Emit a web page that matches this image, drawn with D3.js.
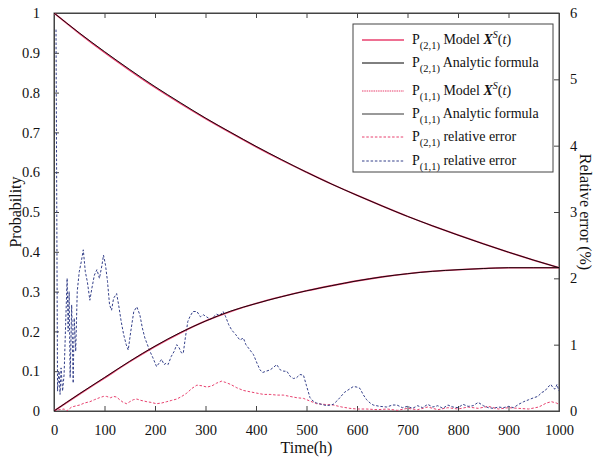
<!DOCTYPE html>
<html><head><meta charset="utf-8">
<script src="https://cdn.jsdelivr.net/npm/d3@7/dist/d3.min.js"></script>
<style>
body{margin:0;background:#fff;}
svg text{font-family:'Liberation Serif', 'Tinos', 'Times New Roman', Times, serif !important;fill:#111;}
</style></head>
<body><svg id="c" width="598" height="459"></svg>
<script>
// ---- data ----
const timeGrid = [0,50,100,150,200,250,300,350,400,450,500,550,600,650,700,750,800,850,900,950,1000];
const p21Analytic = [1.000,0.950,0.903,0.858,0.815,0.775,0.736,0.700,0.665,0.632,0.600,0.570,0.542,0.515,0.489,0.465,0.442,0.420,0.399,0.379,0.360];
const p21Model    = [1.000,0.949,0.901,0.856,0.813,0.773,0.735,0.699,0.664,0.631,0.600,0.570,0.542,0.515,0.489,0.465,0.442,0.420,0.399,0.379,0.360];
const p11Analytic = [0.000,0.043,0.084,0.125,0.163,0.197,0.226,0.251,0.270,0.287,0.302,0.315,0.327,0.337,0.345,0.351,0.355,0.358,0.360,0.360,0.360];
const p11Model    = [0.000,0.042,0.083,0.124,0.162,0.196,0.226,0.250,0.270,0.287,0.302,0.315,0.327,0.337,0.345,0.351,0.355,0.358,0.360,0.360,0.360];

const err21T = [0,10,20,25,35,45,51,60,71,80,90,98,104,112,118,124,130,137,144,150,157,164,172,178,184,192,203,213,223,233,243,253,263,273,283,293,303,313,322,332,340,350,362,375,388,401,415,428,441,454,467,481,494,507,520,535,553,570,586,600,619,640,660,680,700,720,740,760,780,800,820,840,860,880,900,920,940,960,975,985,995,1000];
const err21V = [0,0.02,0.03,0.0,0.06,0.08,0.09,0.12,0.14,0.17,0.2,0.22,0.22,0.2,0.22,0.21,0.17,0.13,0.11,0.14,0.17,0.18,0.16,0.15,0.14,0.13,0.11,0.12,0.14,0.16,0.18,0.22,0.27,0.34,0.39,0.38,0.36,0.38,0.42,0.45,0.43,0.4,0.35,0.31,0.29,0.27,0.25,0.25,0.24,0.24,0.22,0.2,0.19,0.15,0.11,0.1,0.09,0.06,0.04,0.03,0.03,0.02,0.03,0.01,0.04,0.02,0.06,0.02,0.05,0.03,0.06,0.04,0.07,0.03,0.05,0.04,0.03,0.06,0.12,0.14,0.12,0.1];

const err11T = [4,7,10,12,14,17,20,23,26,28,30,32,35,38,40,43,46,50,54,58,62,66,71,75,80,85,90,95,98,102,106,110,114,118,124,128,133,138,143,147,152,158,164,170,175,180,184,190,196,203,208,213,218,222,226,232,238,243,248,252,256,260,265,269,275,283,290,296,302,310,316,322,328,335,340,346,352,360,368,375,380,388,395,402,408,413,420,428,435,441,448,455,461,468,474,480,487,494,500,507,513,520,530,540,553,560,566,575,585,593,600,606,612,619,626,632,645,659,670,679,690,700,710,720,730,740,750,760,770,780,790,800,810,820,830,840,850,860,870,880,890,900,910,920,930,940,950,958,966,972,978,984,988,992,996,1000];
const err11V = [5.75,0.3,0.6,0.25,0.65,0.3,0.55,1.3,2.0,1.2,1.8,0.5,1.6,0.42,1.4,0.9,1.8,2.1,2.25,2.43,2.1,1.95,1.67,1.85,2.05,2.13,2.0,2.2,2.35,2.2,1.95,1.6,1.52,1.7,1.77,1.6,1.35,1.15,1.0,0.92,1.2,1.5,1.57,1.45,1.25,1.1,1.02,0.9,0.8,0.67,0.72,0.78,0.7,0.72,0.7,0.82,0.9,1.0,0.95,0.88,0.87,1.1,1.35,1.42,1.5,1.5,1.42,1.45,1.42,1.38,1.42,1.46,1.44,1.5,1.42,1.3,1.22,1.15,1.07,1.1,1.0,0.92,0.85,0.72,0.62,0.58,0.6,0.62,0.66,0.7,0.62,0.6,0.6,0.52,0.49,0.5,0.55,0.54,0.38,0.2,0.15,0.12,0.1,0.08,0.1,0.15,0.2,0.28,0.33,0.37,0.36,0.34,0.25,0.17,0.12,0.09,0.07,0.06,0.09,0.09,0.05,0.07,0.04,0.08,0.05,0.1,0.06,0.08,0.04,0.09,0.06,0.05,0.1,0.07,0.08,0.13,0.08,0.05,0.04,0.06,0.05,0.07,0.05,0.1,0.14,0.17,0.2,0.22,0.28,0.3,0.36,0.4,0.35,0.33,0.4,0.3];

const xTicks = [0,100,200,300,400,500,600,700,800,900,1000];
const yTicks = [0,0.1,0.2,0.3,0.4,0.5,0.6,0.7,0.8,0.9,1];
const y2Ticks = [0,1,2,3,4,5,6];

// ---- layout ----
const FONT = "'Liberation Serif', Tinos, 'Times New Roman', Times, serif";
const L=54, T=13, R=559, B=411;
const svg = d3.select("#c");
const x = d3.scaleLinear().domain([0,1000]).range([L,R]);
const y = d3.scaleLinear().domain([0,1]).range([B,T]);
const y2 = d3.scaleLinear().domain([0,6]).range([B,T]);

const RED = "#e8406e", BLK = "#000", BLUE = "#34408a";
const axisCol = "#444";

svg.append("rect").attr("x",L).attr("y",T).attr("width",R-L).attr("height",B-T)
  .attr("fill","none").attr("stroke",axisCol).attr("stroke-width",1);

const fmt = d => (d===0?"0":(d===1?"1":d3.format(".1f")(d)));
const gx = svg.append("g").attr("transform",`translate(0,${B})`)
  .call(d3.axisBottom(x).tickValues(xTicks).tickSize(-5).tickPadding(14).tickFormat(d3.format("d")));
const gxt = svg.append("g").attr("transform",`translate(0,${T})`)
  .call(d3.axisTop(x).tickValues(xTicks).tickSize(-5).tickFormat(""));
const gy = svg.append("g").attr("transform",`translate(${L},0)`)
  .call(d3.axisLeft(y).tickValues(yTicks).tickSize(-5).tickPadding(14).tickFormat(fmt));
const gy2 = svg.append("g").attr("transform",`translate(${R},0)`)
  .call(d3.axisRight(y2).tickValues(y2Ticks).tickSize(-5).tickPadding(11).tickFormat(d3.format("d")));
[gx,gxt,gy,gy2].forEach(g=>{
  g.attr("font-family",FONT).attr("font-size",14.5);
  g.select(".domain").attr("stroke",axisCol);
  g.selectAll(".tick line").attr("stroke",axisCol);
  g.selectAll(".tick text").attr("font-size",14.5).style("font-family",FONT).attr("fill","#111");
});

svg.append("clipPath").attr("id","clip").append("rect").attr("x",L).attr("y",T).attr("width",R-L).attr("height",B-T);
const plot = svg.append("g").attr("clip-path","url(#clip)");

const lineP = d3.line().x((d,i)=>x(timeGrid[i])).y(d=>y(d)).curve(d3.curveMonotoneX);
const lineE = ts => d3.line().x((d,i)=>x(ts[i])).y(d=>y2(d));

plot.append("path").datum(err21V).attr("d",lineE(err21T)).attr("fill","none")
  .attr("stroke",RED).attr("stroke-width",1).attr("stroke-dasharray","2.5,1.8");
plot.append("path").datum(err11V).attr("d",lineE(err11T)).attr("fill","none")
  .attr("stroke",BLUE).attr("stroke-width",1).attr("stroke-dasharray","2.5,1.8");

plot.append("path").datum(p21Model).attr("d",lineP).attr("fill","none").attr("stroke",RED).attr("stroke-width",1.6);
plot.append("path").datum(p11Model).attr("d",lineP).attr("fill","none").attr("stroke",RED).attr("stroke-width",1.6);
plot.append("path").datum(p21Analytic).attr("d",lineP).attr("fill","none").attr("stroke",BLK).attr("stroke-width",0.9);
plot.append("path").datum(p11Analytic).attr("d",lineP).attr("fill","none").attr("stroke",BLK).attr("stroke-width",0.9);

const txt = (sel)=>sel.style("font-family",FONT);
txt(svg.append("text").attr("x",(L+R)/2).attr("y",453).attr("text-anchor","middle").attr("font-size",16).text("Time(h)"));
txt(svg.append("text").attr("transform",`translate(21,${(T+B)/2}) rotate(-90)`).attr("text-anchor","middle").attr("font-size",16).text("Probability"));
txt(svg.append("text").attr("transform",`translate(580,${(T+B)/2}) rotate(90)`).attr("text-anchor","middle").attr("font-size",16).text("Relative error (%)"));

const lg = svg.append("g");
lg.append("rect").attr("x",353).attr("y",24).attr("width",200).attr("height",148)
  .attr("fill","#fff").attr("stroke",axisCol).attr("stroke-width",1);
const legendItems = [
  {sub:"(2,1)", kind:"model", col:RED, dash:null, w:1.3, yy:40},
  {sub:"(2,1)", kind:"analytic", col:BLK, dash:null, w:1, yy:63},
  {sub:"(1,1)", kind:"model", col:RED, dash:"1.5,0.8", w:1.1, yy:91},
  {sub:"(1,1)", kind:"analytic", col:BLK, dash:null, w:0.8, yy:114},
  {sub:"(2,1)", kind:"err", col:RED, dash:"2.5,1.8", w:1, yy:137},
  {sub:"(1,1)", kind:"err", col:BLUE, dash:"2.5,1.8", w:1, yy:161}
];
legendItems.forEach(it=>{
  lg.append("line").attr("x1",362).attr("x2",404).attr("y1",it.yy).attr("y2",it.yy)
    .attr("stroke",it.col).attr("stroke-width",it.w).attr("stroke-dasharray",it.dash);
  const t = txt(lg.append("text").attr("x",412).attr("y",it.yy+4).attr("font-size",14));
  t.append("tspan").text("P");
  t.append("tspan").attr("font-size",10.5).attr("dy",5).text(it.sub);
  if(it.kind==="model"){
    t.append("tspan").attr("dy",-5).text(" Model ");
    t.append("tspan").attr("font-weight","bold").attr("font-style","italic").text("X");
    t.append("tspan").attr("font-size",10).attr("font-style","italic").attr("dy",-6).text("S");
    t.append("tspan").attr("dy",6).text("(");
    t.append("tspan").attr("font-style","italic").text("t");
    t.append("tspan").text(")");
  } else if(it.kind==="analytic"){
    t.append("tspan").attr("dy",-5).text(" Analytic formula");
  } else {
    t.append("tspan").attr("dy",-5).text(" relative error");
  }
});
</script></body></html>
